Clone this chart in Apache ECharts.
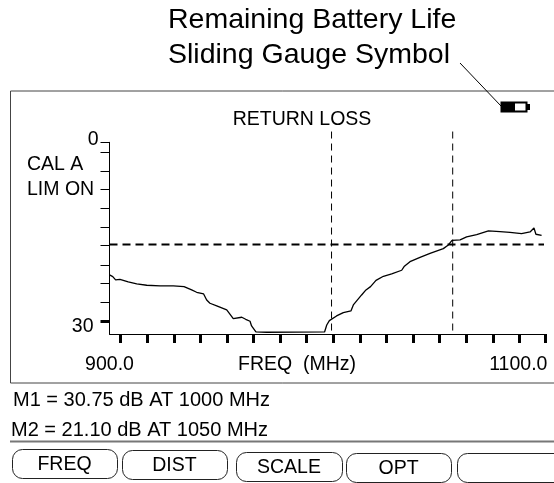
<!DOCTYPE html>
<html>
<head>
<meta charset="utf-8">
<title>Return loss</title>
<script src="https://cdn.jsdelivr.net/npm/echarts@6/dist/echarts.min.js"></script>
<style>
    html, body {margin: 0; padding: 0; background: #fff;}
    #chart {width: 554px; height: 483px;}
</style>
</head>
<body>
<div id="chart"></div>
<script>
    // 回波损耗曲线
    const freqs = [900, 901.5, 902.8, 904.8, 908.6, 912.5, 917.1, 923.2, 929.3, 934.2, 937.7, 940, 943.2, 944.6, 946.1, 949.2, 953.8, 956.8, 960.7, 961.4, 962.5, 964.5, 965.2, 967.2, 972.1, 998.7, 999.7, 1000.9, 1004.2, 1007.3, 1010.8, 1011.9, 1015.7, 1017.7, 1019.8, 1022.3, 1025.7, 1029.5, 1034.1, 1035.2, 1037.9, 1042.5, 1047.1, 1053.2, 1055.5, 1057.2, 1060.9, 1063.9, 1068.5, 1073.9, 1079.2, 1083.8, 1089.1, 1093, 1094.8, 1095.7, 1098.3];
    const loss = [22.18, 22.46, 23.02, 22.91, 23.36, 23.69, 23.91, 24.02, 24.02, 24.14, 24.69, 25.08, 25.36, 26.37, 26.92, 27.37, 28.04, 29.49, 29.26, 28.99, 29.6, 29.93, 30.71, 31.72, 31.77, 31.72, 30.55, 29.82, 29.04, 28.48, 28.2, 27.2, 25.53, 24.69, 24.14, 23.08, 22.41, 22.02, 21.4, 20.79, 19.96, 19.23, 18.56, 17.78, 17.17, 16.39, 16.33, 15.83, 15.44, 14.83, 14.94, 15.05, 15.27, 14.99, 14.33, 15.38, 15.55];
    // 限制线、两个光标
    const limitFreqs = [900, 1099.4];
    const limitLoss = [17.11, 17.11];
    const markerFreqs = [1001.9, 1057.5];
    const markerLoss = [-1.8, 32.06];
    // 刻度
    const xTicks = [905.1, 917.3, 929.5, 941.7, 953.9, 966.1, 978.3, 990.5, 1002.7, 1014.9, 1027.1, 1039.3, 1051.5, 1063.7, 1075.9, 1088.1, 1100];
    const xLabels = [900, 1100];
    const yTicks = [0, 1.62, 4.76, 7.9, 11, 14.2, 17.3, 20.5, 23.6, 26.8];
    const yLabels = [0, 30];
    const yBoldTicks = [30];
    const buttonLabels = ['FREQ', 'DIST', 'SCALE', 'OPT', ''];
    const buttonX = [12, 122, 236, 346, 457];
    const buttonY = [449, 450, 452, 453, 453];
    const buttonW = [105, 105, 106, 105, 110];

    const font = 'Liberation Sans';
    const ink = '#000';
    const labelSize = 19.5;

    function pairs(xs, ys) {
        return xs.map(function (x, i) { return [x, ys[i]]; });
    }
    function text(x, y, str, size, align) {
        return {
            type: 'text', x: x, y: y,
            style: {text: str, font: size + 'px "' + font + '"', fill: ink, align: align || 'left', verticalAlign: 'middle'}
        };
    }
    function markerSeries(f) {
        return {
            type: 'line', showSymbol: false, clip: false, silent: true,
            data: [[f, markerLoss[0]], [f, markerLoss[1]]],
            lineStyle: {color: ink, width: 1, type: [7, 5]}
        };
    }

    let chart = echarts.init(document.getElementById('chart'), null, {renderer: 'canvas'});

    let graphics = [
        // 外框
        {type: 'polyline', shape: {points: [[554, 91], [10.5, 91], [10.5, 383], [554, 383]]}, style: {stroke: '#444', fill: null, lineWidth: 1}},
        {type: 'line', shape: {x1: 10, y1: 441.5, x2: 554, y2: 441.5}, style: {stroke: '#777', lineWidth: 2}},
        // 电池图标
        {type: 'line', shape: {x1: 460, y1: 63, x2: 501, y2: 106}, style: {stroke: ink, lineWidth: 1}},
        {type: 'rect', shape: {x: 501, y: 102, width: 14, height: 10}, style: {fill: '#000'}},
        {type: 'rect', shape: {x: 501.5, y: 102.5, width: 25, height: 9}, style: {stroke: '#000', fill: null, lineWidth: 2}},
        {type: 'rect', shape: {x: 527, y: 104, width: 3, height: 6}, style: {fill: '#000'}},
        // 文字
        text(168, 20, 'Remaining Battery Life', 28.5),
        text(168, 55, 'Sliding Gauge Symbol', 28.5),
        text(302, 120, 'RETURN LOSS', labelSize, 'center'),
        text(27, 165, 'CAL A', labelSize),
        text(27, 190, 'LIM ON', labelSize),
        text(297, 365, 'FREQ  (MHz)', labelSize, 'center'),
        text(13, 400, 'M1 = 30.75 dB AT 1000 MHz', 20),
        text(11, 430, 'M2 = 21.10 dB AT 1050 MHz', 20)
    ];
    buttonLabels.forEach(function (label, i) {
        graphics.push({
            type: 'rect',
            shape: {x: buttonX[i] + 0.5, y: buttonY[i] + 0.5, width: buttonW[i], height: 29, r: 10},
            style: {stroke: '#222', fill: null, lineWidth: 1}
        });
        if (label) {
            graphics.push(text(buttonX[i] + buttonW[i] / 2, buttonY[i] + 16, label, labelSize, 'center'));
        }
    });

    chart.setOption({
        animation: false,
        backgroundColor: '#fff',
        grid: {left: 109.5, right: 8.7, top: 142.3, bottom: 149},
        xAxis: {
            type: 'value', min: 900, max: 1100,
            splitLine: {show: false},
            axisLine: {onZero: false, lineStyle: {color: ink, width: 1}},
            axisTick: {show: true, customValues: xTicks, length: 9, lineStyle: {color: ink, width: 3}},
            axisLabel: {
                customValues: xLabels, margin: 21, color: ink, fontFamily: font, fontSize: labelSize,
                formatter: function (v) { return v === 900 ? '{a|' + v.toFixed(1) + '}' : '{b|' + v.toFixed(1) + '}'; },
                rich: {
                    a: {fontFamily: font, fontSize: labelSize, color: ink},
                    b: {fontFamily: font, fontSize: labelSize, color: ink, padding: [0, 54, 0, 0]}
                }
            }
        },
        yAxis: [
            {
                type: 'value', inverse: true, min: 0, max: 32.06,
                splitLine: {show: false},
                axisLine: {onZero: false, lineStyle: {color: ink, width: 1}},
                axisTick: {show: true, customValues: yTicks, length: 9, lineStyle: {color: ink, width: 1}},
                axisLabel: {
                    customValues: yLabels, margin: 11, color: ink, fontFamily: font, fontSize: labelSize,
                    formatter: function (v) { return v === 0 ? '{a|0}' : '{b|' + v + '}'; },
                    rich: {
                        a: {fontFamily: font, fontSize: labelSize, color: ink, padding: [0, 0, 6, 0]},
                        b: {fontFamily: font, fontSize: labelSize, color: ink, padding: [10, 5, 0, 0]}
                    }
                }
            },
            {
                // 30 处的粗刻度
                type: 'value', inverse: true, min: 0, max: 32.06, position: 'left',
                splitLine: {show: false},
                axisLine: {show: false, onZero: false},
                axisTick: {show: true, customValues: yBoldTicks, length: 9, lineStyle: {color: ink, width: 3}},
                axisLabel: {show: false}
            }
        ],
        series: [
            {
                type: 'line', showSymbol: false, silent: true, clip: false,
                data: pairs(freqs, loss),
                lineStyle: {color: ink, width: 1.3}
            },
            {
                type: 'line', showSymbol: false, silent: true,
                data: pairs(limitFreqs, limitLoss),
                lineStyle: {color: ink, width: 2, type: [8, 5]}
            },
            markerSeries(markerFreqs[0]),
            markerSeries(markerFreqs[1])
        ],
        graphic: {elements: graphics}
    });
</script>
</body>
</html>
